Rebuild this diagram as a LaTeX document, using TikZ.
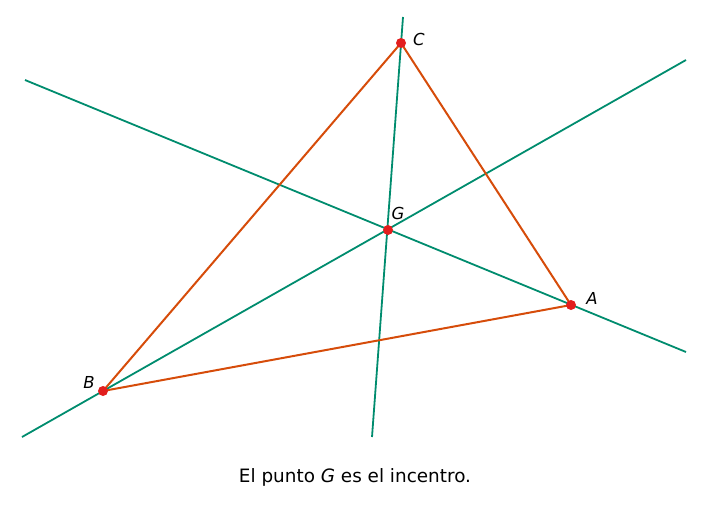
\documentclass[tikz,border=0pt]{standalone}
\usepackage{fontspec}
\setmainfont{DejaVu Sans}
\begin{document}
\begin{tikzpicture}[x=1pt,y=-1pt,
  bis/.style={draw={rgb,255:red,0;green,140;blue,110}, line width=1.8pt},
  side/.style={draw={rgb,255:red,214;green,76;blue,10}, line width=2pt},
  pt/.style={circle, fill={rgb,255:red,226;green,30;blue,30}, inner sep=0pt, minimum size=10pt},
  lab/.style={font=\fontsize{16.5}{19}\selectfont\itshape, inner sep=0pt}]
\useasboundingbox (0,0) rectangle (706,530);
\coordinate (A) at (571,305);
\coordinate (B) at (103,391);
\coordinate (C) at (401,43);
\coordinate (G) at (388,230);
\coordinate (a1) at (25,80);
\coordinate (a2) at (686,352);
\coordinate (b1) at (22,437);
\coordinate (b2) at (686,60);
\coordinate (c1) at (403,17);
\coordinate (c2) at (372,437);
\draw[bis] (a1) -- (a2);
\draw[bis] (b1) -- (b2);
\draw[bis] (c1) -- (c2);
\draw[side] (A) -- (B) -- (C) -- cycle;
\node[pt] (pA) at (A) {};
\node[pt] (pB) at (B) {};
\node[pt] (pC) at (C) {};
\node[pt] (pG) at (G) {};
\node[lab] (lA) at (592,298) {A};
\node[lab] (lB) at (89,382) {B};
\node[lab] (lC) at (419,39) {C};
\node[lab] (lG) at (398,213) {G};
\node[font=\fontsize{18.4}{22}\selectfont] (cap) at (355,477) {El punto \textit{G} es el incentro.};
\end{tikzpicture}
\end{document}
